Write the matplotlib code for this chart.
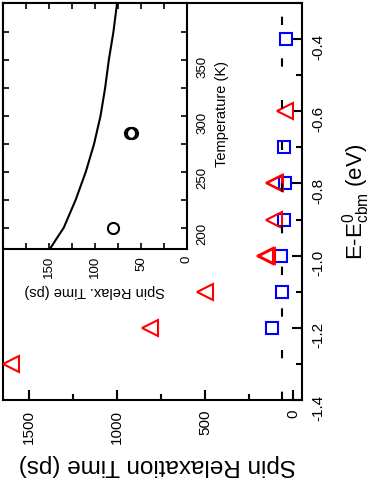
import matplotlib
matplotlib.use("Agg")
import matplotlib.pyplot as plt
from matplotlib.ticker import FixedLocator

plt.rcParams['font.family'] = ['Liberation Sans', 'DejaVu Sans']
plt.rcParams['mathtext.fontset'] = 'custom'
plt.rcParams['mathtext.rm'] = 'Liberation Sans'
plt.rcParams['mathtext.it'] = 'Liberation Sans:italic'
plt.rcParams['axes.unicode_minus'] = False

# ---- main data (energy in eV, spin relaxation time in ps) ----
tri_energy = [-1.3, -1.2, -1.1, -1.0, -1.0, -0.9, -0.8, -0.8, -0.6]
tri_time = [1605, 810, 503, 158, 150, 108, 108, 103, 45]

sq_energy = [-1.2, -1.1, -1.0, -0.9, -0.8, -0.7, -0.4]
sq_time = [119, 60, 68, 54, 45, 51, 40]

dash_energy = [-1.4, -0.3]
dash_time = [62, 62]

main_xticks = [0, 500, 1000, 1500]
main_xticklabels = ['0', '500', '1000', '1500']
main_yticks = [-1.4, -1.2, -1.0, -0.8, -0.6, -0.4]
main_yticklabels = ['-1.4', '-1.2', '-1.0', '-0.8', '-0.6', '-0.4']

# ---- inset data (temperature in K, spin relax. time in ps) ----
curve_temp = [181, 190, 200, 225, 250, 275, 300, 325, 350, 375, 401]
curve_time = [149, 142, 134, 121, 110, 101, 94, 89, 85, 80, 76]

circ_temp = [285, 285, 200]
circ_time = [62, 60, 80]

inset_xticks = [0, 50, 100, 150]
inset_xticklabels = ['0', '50', '100', '150']
inset_yticks = [200, 250, 300, 350]
inset_yticklabels = ['200', '250', '300', '350']

W, H = 377, 479
fig = plt.figure(figsize=(W / 100, H / 100), dpi=100)

# main axes: spin time horizontal (reversed), energy vertical
ax = fig.add_axes([3 / W, 1 - 400 / H, 299 / W, 397 / H])
ax.plot(sq_time, sq_energy, linestyle='none', marker='s', ms=8.5,
        mfc='none', mec='#0000ff', mew=1.5, zorder=3)
ax.plot(tri_time, tri_energy, linestyle='none', marker='<', ms=11,
        mfc='none', mec='#ff0000', mew=1.5, zorder=4)
ln, = ax.plot(dash_time, dash_energy, color='black', lw=1.5, zorder=5)
ln.set_dashes((4, 16))
ax.set_xlim(1648, -51)
ax.set_ylim(-1.4, -0.3)

ax.xaxis.set_major_locator(FixedLocator(main_xticks))
ax.set_xticklabels(main_xticklabels)
ax.xaxis.set_minor_locator(FixedLocator([250, 750, 1250]))
ax.yaxis.set_major_locator(FixedLocator(main_yticks))
ax.set_yticklabels(main_yticklabels)
ax.yaxis.set_minor_locator(FixedLocator([-1.3, -1.1, -0.9, -0.7, -0.5, -0.3]))
ax.yaxis.tick_right()
ax.tick_params(which='both', direction='in', top=False, left=False,
               bottom=True, right=True, width=1.5, labelsize=11,
               labelrotation=90, pad=7)
ax.tick_params(which='major', length=7)
ax.tick_params(which='minor', length=4)
for s in ax.spines.values():
    s.set_linewidth(1.5)

ax.set_xlabel('Spin Relaxation Time (ps)', fontsize=17.5, rotation=180,
              labelpad=8)
ax.xaxis.set_label_coords(0.517, -0.135)
ax.xaxis.label.set_verticalalignment('top')
ax.yaxis.set_label_position('right')
ax.set_ylabel(r'E-E$^{\mathrm{0}}_{\mathrm{cbm}}$ (eV)', fontsize=16,
              rotation=90, labelpad=10)

# inset axes
ax2 = fig.add_axes([3 / W, 1 - 249 / H, 184 / W, 246 / H])
ax2.set_zorder(10)
ax2.set_facecolor('white')
ax2.plot(curve_time, curve_temp, color='black', lw=1.5)
ax2.plot(circ_time, circ_temp, linestyle='none', marker='o', ms=8,
         mfc='none', mec='black', mew=1.5)
ax2.set_xlim(200, 0)
ax2.set_ylim(181, 401)
ax2.xaxis.set_major_locator(FixedLocator(inset_xticks))
ax2.set_xticklabels(inset_xticklabels)
ax2.xaxis.set_minor_locator(FixedLocator([25, 75, 125, 175]))
ax2.yaxis.set_major_locator(FixedLocator(inset_yticks))
ax2.set_yticklabels(inset_yticklabels)
ax2.yaxis.set_minor_locator(FixedLocator([225, 275, 325, 375]))
ax2.tick_params(which='both', direction='in', top=True, bottom=True,
                left=True, right=True, labelleft=False, labelright=True,
                labelbottom=True, labeltop=False, width=1.2,
                labelsize=9.5, labelrotation=90, length=4)
ax2.tick_params(axis='x', pad=5)
ax2.tick_params(axis='y', pad=7)
for s in ax2.spines.values():
    s.set_linewidth(1.5)
ax2.set_xlabel('Spin Relax. Time (ps)', fontsize=10.5, rotation=180,
               labelpad=4)
ax2.yaxis.set_label_position('right')
ax2.set_ylabel('Temperature (K)', fontsize=10.5, rotation=90)
ax2.yaxis.set_label_coords(1.15, 0.55)

fig.savefig('out.png', dpi=100)
